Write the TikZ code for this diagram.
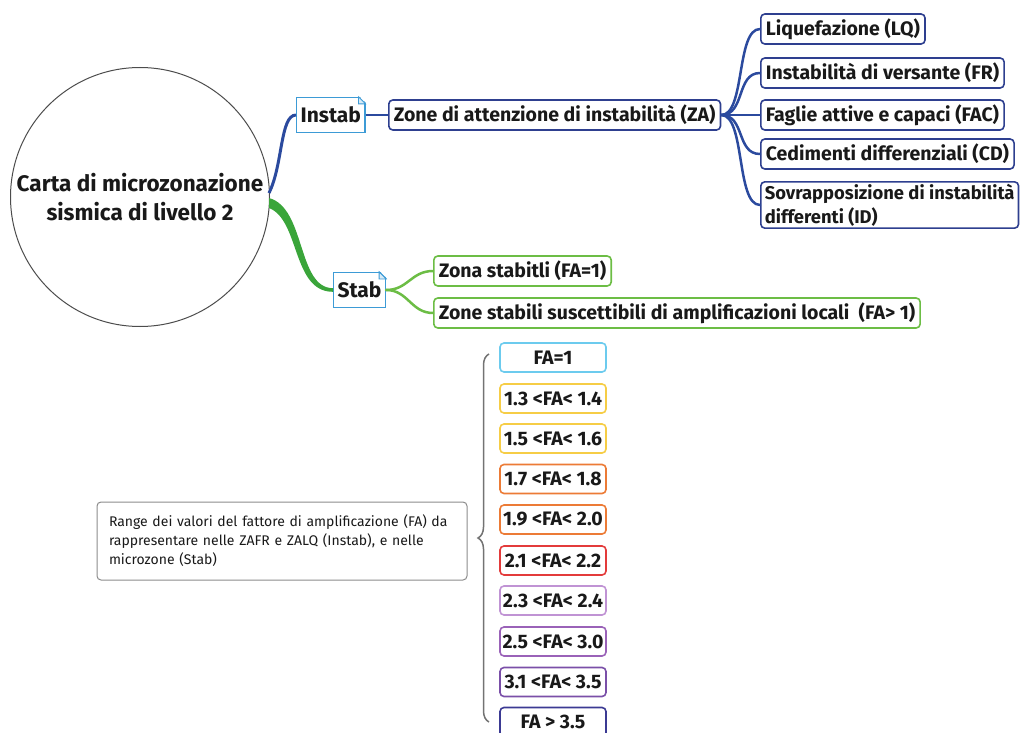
\documentclass[tikz,border=0pt]{standalone}
\usepackage{fontspec}
\setmainfont{Fira Sans}
\usetikzlibrary{calc,decorations.pathreplacing}

\definecolor{mapblue}{HTML}{2B4A9E}
\definecolor{boxblue}{HTML}{2E3F8F}
\definecolor{topicblue}{HTML}{3D9BD6}
\definecolor{mapgreen}{HTML}{3AA53A}
\definecolor{leafgreen}{HTML}{6CBD45}
\definecolor{faone}{HTML}{6CCBEE}
\definecolor{fayellow}{HTML}{F6CD46}
\definecolor{faorange}{HTML}{EC7B36}
\definecolor{fared}{HTML}{E33B3B}
\definecolor{falilac}{HTML}{C093D4}
\definecolor{faviolet}{HTML}{9A62B8}
\definecolor{fapurple}{HTML}{7A4FA8}
\definecolor{faindigo}{HTML}{3B3A93}

% small folded corner on the topic boxes
\newcommand\dogear[1]{%
  \fill[white] ($(#1.north east)+(-7,-1.5)$) -- ($(#1.north east)+(1.5,-1.5)$) -- ($(#1.north east)+(1.5,7)$) -- cycle;
  \draw[topicblue, line width=1.2pt] ($(#1.north east)+(-7,0)$) -- ($(#1.north east)+(0,7)$);
  \filldraw[fill=topicblue!20, draw=topicblue, line width=0.8pt] ($(#1.north east)+(-7,0)$) -- ($(#1.north east)+(-7,7)$) -- ($(#1.north east)+(0,7)$) -- cycle;
}

\begin{document}
\begin{tikzpicture}[
  x=1pt, y=-1pt,
  every node/.style={font=\bfseries\fontsize{19.5}{24}\selectfont, text=black!90},
  rootnode/.style={circle, draw=black!70, line width=1pt, minimum size=259pt, align=center,
    font=\bfseries\fontsize{22.5}{29}\selectfont},
  topic/.style={draw=topicblue, line width=1.2pt, fill=white, inner xsep=4pt, minimum height=35pt, anchor=west,
    font=\bfseries\fontsize{21}{24}\selectfont},
  zabox/.style={draw=boxblue, line width=1.6pt, rounded corners=4pt, fill=white, inner xsep=5pt, inner ysep=2pt,
    minimum height=30pt, anchor=west, align=left},
  leaf/.style={zabox, draw=leafgreen},
  fabox/.style={draw=#1, line width=1.6pt, rounded corners=4pt, fill=white, inner xsep=2pt, inner ysep=2pt,
    minimum width=106pt, minimum height=29pt},
  notebox/.style={draw=black!45, line width=1pt, rounded corners=4pt, minimum width=370pt, minimum height=78pt,
    align=left, text width=346pt, font=\mdseries\fontsize{14}{19}\selectfont},
  branch/.style={mapblue, line width=2.5pt, line cap=round},
  stembranch/.style={leafgreen, line width=2.5pt, line cap=round}
]
\useasboundingbox (0,0) rectangle (1028,733);

% ---- root ----
\node[rootnode] (carta) at (140,197) {Carta di microzonazione\\sismica di livello 2};

% ---- main topics ----
\node[topic] (instab) at (296,115) {Instab};
\node[topic] (stab)   at (333,290) {Stab};

% ---- instability zones ----
\node[zabox] (za)  at (388,115) {Zone di attenzione di instabilità (ZA)};
\node[zabox] (lq)  at (760,29)  {Liquefazione (LQ)};
\node[zabox] (fr)  at (760,73)  {Instabilità di versante (FR)};
\node[zabox] (fac) at (760,115) {Faglie attive e capaci (FAC)};
\node[zabox] (cd)  at (760,154) {Cedimenti differenziali (CD)};
\node[zabox, inner xsep=4pt, font=\bfseries\fontsize{18.4}{24}\selectfont] (id) at (760,205)
  {Sovrapposizione di instabilità\\differenti (ID)};

% ---- stable zones ----
\node[leaf] (fa1z) at (433,271) {Zona stabitli (FA=1)};
\node[leaf] (fagz) at (433,313) {Zone stabili suscettibili di amplificazioni locali\ \ (FA> 1)};

% ---- FA ranges ----
\node[fabox=faone]    (r1)  at (553,357.5) {FA=1};
\node[fabox=fayellow] (r2)  at (553,398.5) {1.3 <FA< 1.4};
\node[fabox=fayellow] (r3)  at (553,438.5) {1.5 <FA< 1.6};
\node[fabox=faorange] (r4)  at (553,479)   {1.7 <FA< 1.8};
\node[fabox=faorange] (r5)  at (553,519.5) {1.9 <FA< 2.0};
\node[fabox=fared]    (r6)  at (553,560.5) {2.1 <FA< 2.2};
\node[fabox=falilac]  (r7)  at (553,600.5) {2.3 <FA< 2.4};
\node[fabox=faviolet] (r8)  at (553,641.5) {2.5 <FA< 3.0};
\node[fabox=fapurple] (r9)  at (553,682)   {3.1 <FA< 3.5};
\node[fabox=faindigo] (r10) at (553,722)   {FA > 3.5};

% ---- note ----
\node[notebox] (note) at (282,541) {Range dei valori del fattore di amplificazione (FA) da\\
  rappresentare nelle ZAFR e ZALQ (Instab), e nelle\\microzone (Stab)};

% ---- brace over the ranges ----
\coordinate (bracetop) at (489,354);
\coordinate (bracebot) at (489,722);
\draw[black!55, line width=1.5pt, decorate, decoration={brace, amplitude=11pt}] (bracebot) -- (bracetop);

% ---- connectors ----
\draw[mapblue, line width=3pt] ($(carta.east)+(-1,-4)$) .. controls (283,165) and (280,115) .. (instab.west);
\fill[mapgreen] ($(carta.east)+(-1,1)$) .. controls (306,208) and (297,288) .. ($(stab.west)+(0,-1.8)$)
  -- ($(stab.west)+(0,1.8)$) .. controls (292,292) and (300,220) .. ($(carta.east)+(-1,11)$) -- cycle;
\draw[mapblue, line width=1.5pt] (instab.east) -- (za.west);

\draw[branch] (za.east) .. controls +(24,0) and +(-24,0) .. (lq.west);
\draw[branch] (za.east) .. controls +(24,0) and +(-24,0) .. (fr.west);
\draw[branch] (za.east) .. controls +(24,0) and +(-24,0) .. (fac.west);
\draw[branch] (za.east) .. controls +(24,0) and +(-24,0) .. (cd.west);
\draw[branch] (za.east) .. controls +(24,0) and +(-24,0) .. (id.west);

\draw[stembranch] (stab.east) .. controls +(22,0) and +(-22,0) .. (fa1z.west);
\draw[stembranch] (stab.east) .. controls +(22,0) and +(-22,0) .. (fagz.west);

\dogear{instab}
\dogear{stab}

\end{tikzpicture}
\end{document}
